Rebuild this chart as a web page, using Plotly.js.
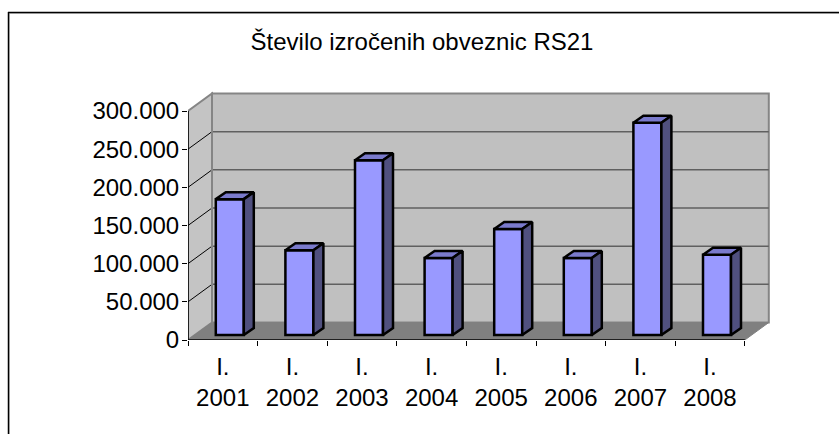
<!DOCTYPE html>
<html><head><meta charset="utf-8">
<script src="https://cdn.plot.ly/plotly-3.0.1.min.js"></script>
<style>html,body{margin:0;padding:0;background:#fff;overflow:hidden}</style>
</head><body><div id="chart" style="width:839px;height:434px"></div>
<script>
const chartTitle = 'Število izročenih obveznic RS21';
const years = ['2001','2002','2003','2004','2005','2006','2007','2008'];
const quarterLabel = 'I.';
const values = [178000,111000,229000,101000,139000,101000,278000,105000];
const yTicks = [0,50000,100000,150000,200000,250000,300000];
const yTickText = ['0','50.000','100.000','150.000','200.000','250.000','300.000'];

const W=839,H=434, L=188, T=90, B=340, R=770;
const catPx=69.6, valPx=229/300000;
const fx=p=>p/catPx, fy=p=>p/valPx;          // pixel lengths → data units
const depthX=fx(24), depthY=fy(17.5);
const n=years.length, yMax=300000;
const barW=fx(28), gapX=fx(7), gapY=fy(5), bdX=fx(10), bdY=fy(7);
const px=v=>(v-L)/(R-L), py=v=>(B-v)/(B-T);

const poly=(pts,fill,lineCol,lw)=>({type:'path',xref:'x',yref:'y',layer:'below',
  path:'M'+pts.map(p=>p.join(',')).join('L')+'Z',fillcolor:fill,line:{color:lineCol||fill,width:lw||0}});
const seg=(x0,y0,x1,y1,c,w)=>({type:'line',xref:'x',yref:'y',layer:'below',x0,y0,x1,y1,line:{color:c,width:w}});

const shapes=[
  {type:'line',xref:'paper',yref:'paper',x0:px(8),x1:px(839),y0:py(13.5),y1:py(13.5),line:{color:'#c8c8c8',width:1}},
  {type:'line',xref:'paper',yref:'paper',x0:px(9.5),x1:px(9.5),y0:py(13),y1:py(434),line:{color:'#d0d0d0',width:1}},
  {type:'line',xref:'paper',yref:'paper',x0:px(8),x1:px(839),y0:py(12.5),y1:py(12.5),line:{color:'#000',width:1.5}},
  {type:'line',xref:'paper',yref:'paper',x0:px(8.5),x1:px(8.5),y0:py(12),y1:py(434),line:{color:'#000',width:1.5}},
  // back wall
  poly([[depthX,depthY],[n+depthX,depthY],[n+depthX,yMax+depthY],[depthX,yMax+depthY]],'#c0c0c0','#858585',2),
  // side wall
  poly([[0,0],[depthX,depthY],[depthX,yMax+depthY],[0,yMax]],'#c4c4c4','#858585',2),
  // floor
  poly([[0,0],[n,0],[n+depthX,depthY],[depthX,depthY]],'#808080','#808080',1)
];
yTicks.slice(1,-1).forEach(v=>{
  shapes.push(seg(depthX,v+depthY,n+depthX,v+depthY,'#606060',1.5));
  shapes.push(seg(0,v,depthX,v+depthY,'#000',1));
});
shapes.push(seg(depthX,depthY,depthX,yMax+depthY,'#858585',2));

const centers=years.map((_,i)=>i+0.5+gapX);
const traces=[{type:'bar',x:centers,y:values,base:values.map(()=>gapY),
  width:barW,marker:{color:'#9999ff',line:{color:'#000',width:2.5}},hoverinfo:'skip',showlegend:false}];
const xs1=[],ys1=[],xs2=[],ys2=[];
values.forEach((v,i)=>{
  const a=centers[i]-barW/2,b=centers[i]+barW/2,t=v+gapY;
  xs1.push(a,b,b+bdX,a+bdX,a,null); ys1.push(t,t,t+bdY,t+bdY,t,null);
  xs2.push(b,b+bdX,b+bdX,b,b,null); ys2.push(t,t+bdY,gapY+bdY,gapY,t,null);
});
traces.push({type:'scatter',mode:'lines',x:xs1,y:ys1,fill:'toself',fillcolor:'#7a7acc',line:{color:'#000',width:2.5},hoverinfo:'skip',showlegend:false});
traces.push({type:'scatter',mode:'lines',x:xs2,y:ys2,fill:'toself',fillcolor:'#50507f',line:{color:'#000',width:2.5},hoverinfo:'skip',showlegend:false});
// axis lines
traces.push({type:'scatter',mode:'lines',x:[0,0,n],y:[yMax,0,0],line:{color:'#000',width:1.5},hoverinfo:'skip',showlegend:false});

const font={family:'"Liberation Sans",Arial,sans-serif',color:'#000'};
const layout={width:W,height:H,paper_bgcolor:'#fff',plot_bgcolor:'rgba(0,0,0,0)',showlegend:false,
  margin:{l:L,r:W-R,t:T,b:H-B,pad:0},bargap:0,
  title:{text:chartTitle,font:{...font,size:24},x:422/W,xanchor:'center',y:1-42/H,yanchor:'middle'},
  xaxis:{range:[0,(R-L)/catPx],tickmode:'array',tickvals:years.map((_,i)=>i+0.5),
    ticktext:years.map(y=>quarterLabel+'<br>'+y),tickfont:{...font,size:24},
    ticks:'outside',ticklen:5,tickcolor:'rgba(0,0,0,0)',showgrid:false,zeroline:false,showline:false,
    minor:{tickmode:'array',tickvals:years.map((_,i)=>i).concat([n]),ticks:'outside',ticklen:5,tickcolor:'#000',tickwidth:1,showgrid:false}},
  yaxis:{range:[0,(B-T)/valPx],tickmode:'array',tickvals:yTicks,ticktext:yTickText,tickfont:{...font,size:24},
    ticks:'outside',ticklen:5,ticklabelstandoff:-2,tickcolor:'#000',tickwidth:1,showgrid:false,zeroline:false,showline:false},
  shapes
};
Plotly.newPlot('chart',traces,layout,{staticPlot:true,displayModeBar:false});
</script></body></html>
